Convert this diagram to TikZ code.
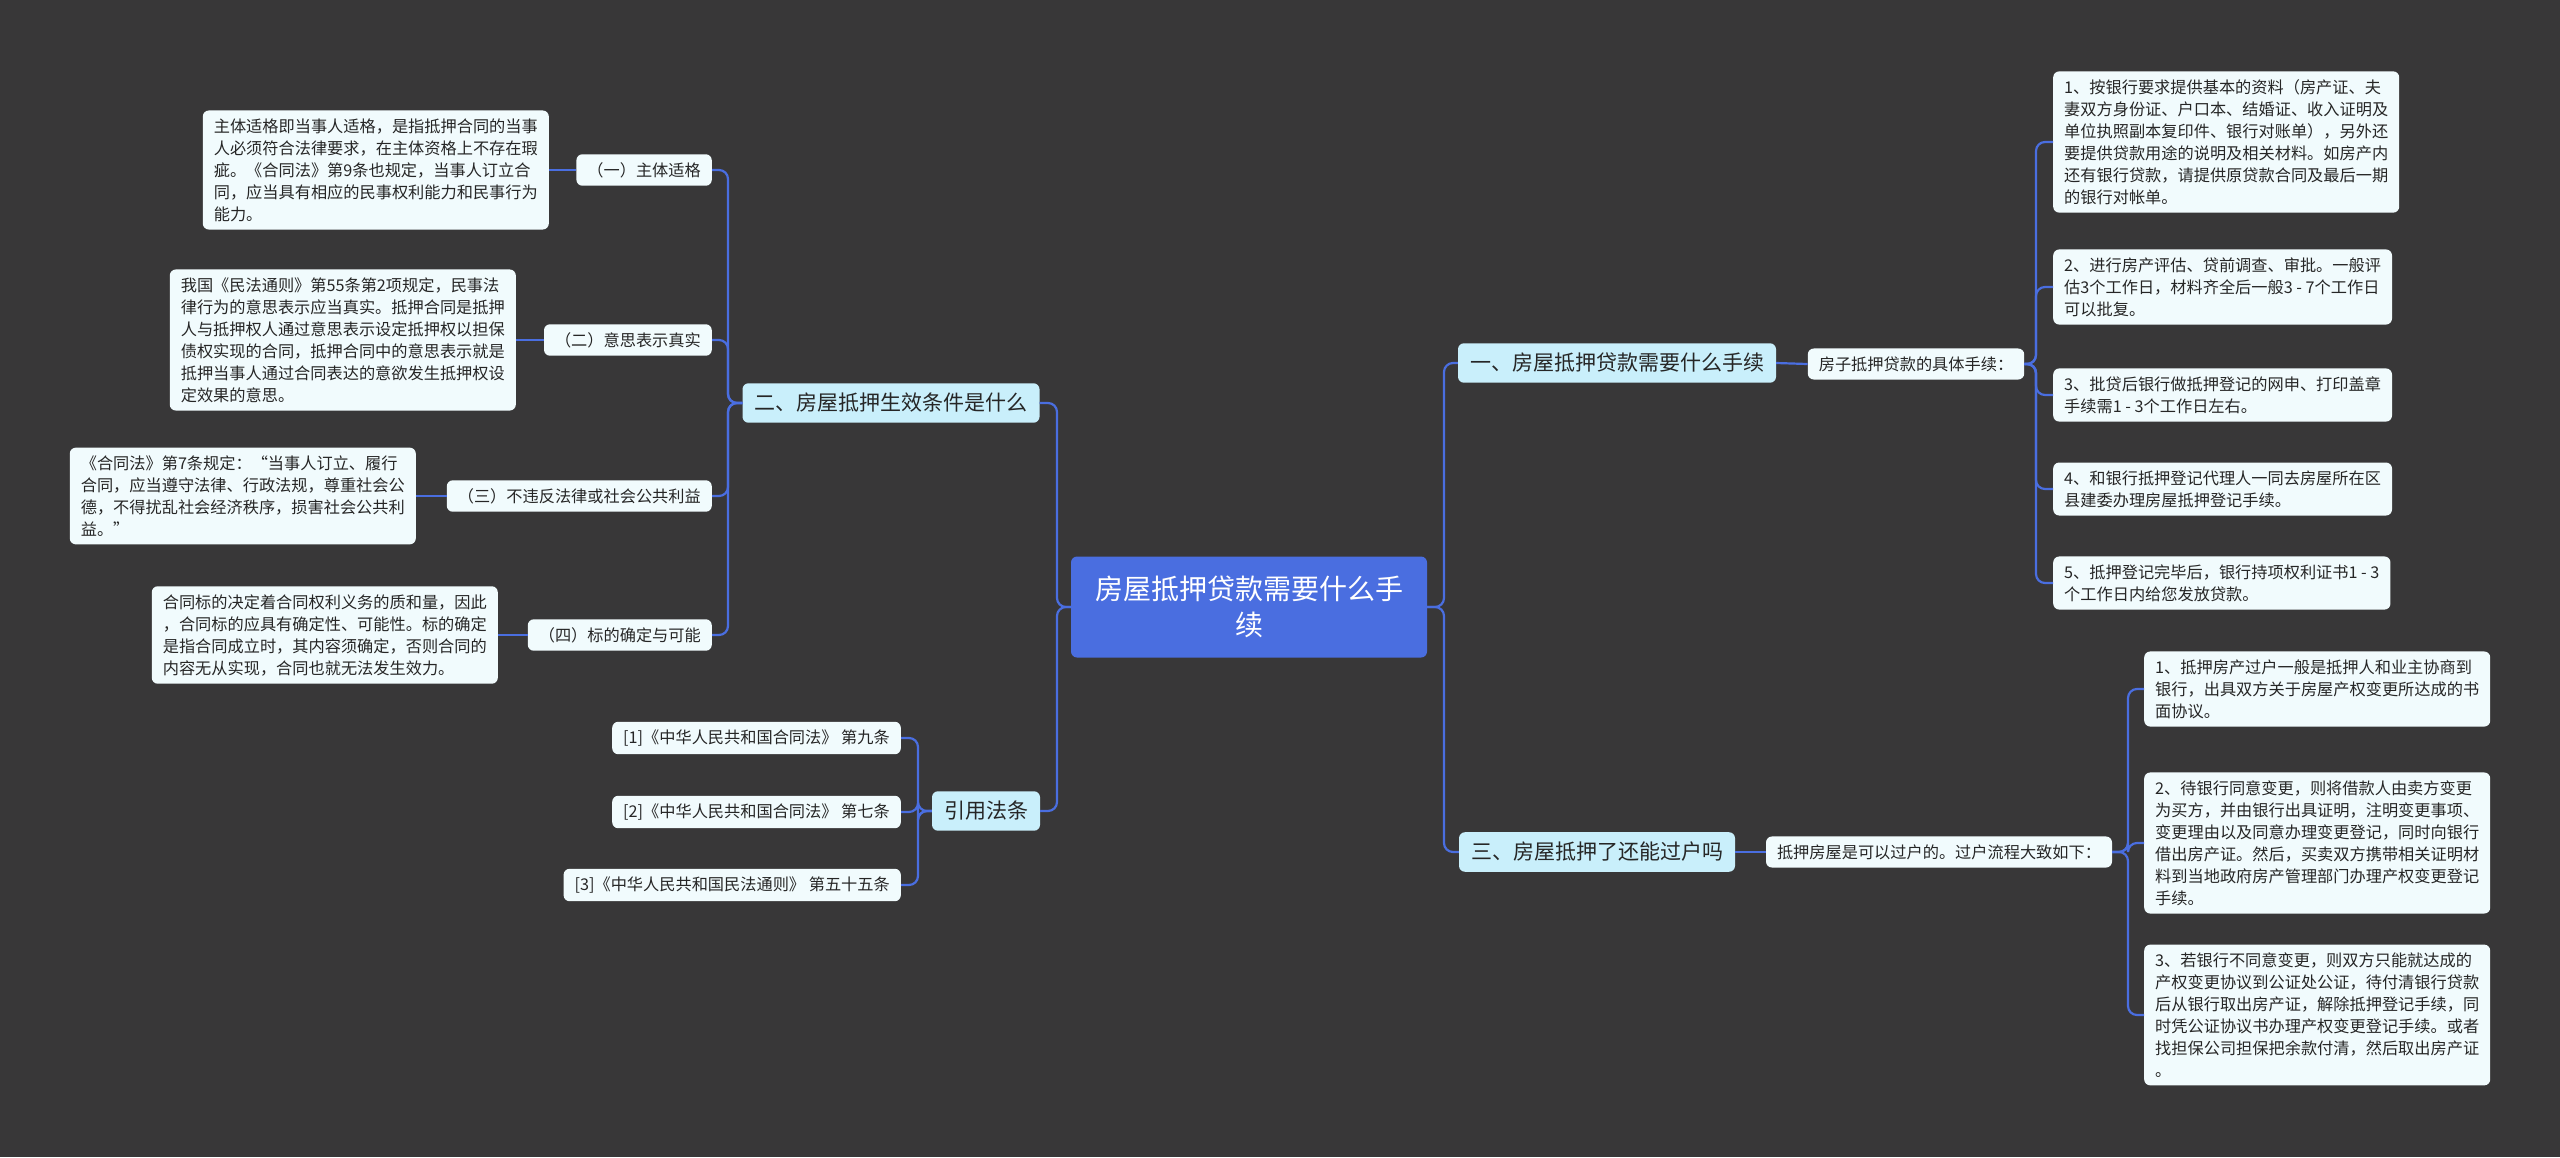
\documentclass[tikz,border=0pt]{standalone}
\usepackage{fontspec}
\setmainfont{Noto Sans CJK SC}
\begin{document}
\begin{tikzpicture}[x=1pt,y=-1pt,
  every node/.style={font=\fontsize{16.2}{22}\selectfont, text=black!85},
  leaf/.style={draw=none, fill=leafc, rounded corners=6pt, align=left, inner xsep=11pt, inner ysep=8pt},
  sub/.style={leaf},
  top/.style={fill=topc, rounded corners=6pt, inner xsep=12pt, inner ysep=10pt, font=\fontsize{21}{26}\selectfont},
  ctr/.style={fill=ctrc, rounded corners=6pt, align=center, text=white, minimum width=356pt, minimum height=101pt, font=\fontsize{28}{36}\selectfont},
  ln/.style={draw=linec, line width=2.2pt, rounded corners=9pt}]
\definecolor{bgc}{HTML}{383738}
\definecolor{leafc}{HTML}{F1FBFD}
\definecolor{topc}{HTML}{C9EFFB}
\definecolor{ctrc}{HTML}{4A6EE0}
\definecolor{linec}{HTML}{4A6EE0}
\fill[bgc] (0,0) rectangle (2560,1157);
\useasboundingbox (0,0) rectangle (2560,1157);

\node[ctr] (c) at (1249,607) {房屋抵押贷款需要什么手\\续};

% right side
\node[top] (t1) at (1617,363) {一、房屋抵押贷款需要什么手续};
\node[sub] (s1) at (1916,364) {房子抵押贷款的具体手续：};
\node[leaf, anchor=west] (r1) at (2053,142) {1、按银行要求提供基本的资料（房产证、夫\\妻双方身份证、户口本、结婚证、收入证明及\\单位执照副本复印件、银行对账单），另外还\\要提供贷款用途的说明及相关材料。如房产内\\还有银行贷款，请提供原贷款合同及最后一期\\的银行对帐单。};
\node[leaf, anchor=west] (r2) at (2053,287) {2、进行房产评估、贷前调查、审批。一般评\\估3个工作日，材料齐全后一般3 - 7个工作日\\可以批复。};
\node[leaf, anchor=west] (r3) at (2053,395) {3、批贷后银行做抵押登记的网申、打印盖章\\手续需1 - 3个工作日左右。};
\node[leaf, anchor=west] (r4) at (2053,489) {4、和银行抵押登记代理人一同去房屋所在区\\县建委办理房屋抵押登记手续。};
\node[leaf, anchor=west] (r5) at (2053,583) {5、抵押登记完毕后，银行持项权利证书1 - 3\\个工作日内给您发放贷款。};

\node[top] (t3) at (1597,852) {三、房屋抵押了还能过户吗};
\node[sub] (s3) at (1939,852) {抵押房屋是可以过户的。过户流程大致如下：};
\node[leaf, anchor=west] (q1) at (2144,689) {1、抵押房产过户一般是抵押人和业主协商到\\银行，出具双方关于房屋产权变更所达成的书\\面协议。};
\node[leaf, anchor=west] (q2) at (2144,843) {2、待银行同意变更，则将借款人由卖方变更\\为买方，并由银行出具证明，注明变更事项、\\变更理由以及同意办理变更登记，同时向银行\\借出房产证。然后，买卖双方携带相关证明材\\料到当地政府房产管理部门办理产权变更登记\\手续。};
\node[leaf, anchor=west] (q3) at (2144,1015) {3、若银行不同意变更，则双方只能就达成的\\产权变更协议到公证处公证，待付清银行贷款\\后从银行取出房产证，解除抵押登记手续，同\\时凭公证协议书办理产权变更登记手续。或者\\找担保公司担保把余款付清，然后取出房产证\\。};

% left side
\node[top] (t2) at (891,403) {二、房屋抵押生效条件是什么};
\node[sub, anchor=east] (a1) at (712,170) {（一）主体适格};
\node[sub, anchor=east] (a2) at (712,340) {（二）意思表示真实};
\node[sub, anchor=east] (a3) at (712,496) {（三）不违反法律或社会公共利益};
\node[sub, anchor=east] (a4) at (712,635) {（四）标的确定与可能};
\node[leaf, anchor=east] (d1) at (549,170) {主体适格即当事人适格，是指抵押合同的当事\\人必须符合法律要求，在主体资格上不存在瑕\\疵。《合同法》第9条也规定，当事人订立合\\同，应当具有相应的民事权利能力和民事行为\\能力。};
\node[leaf, anchor=east] (d2) at (516,340) {我国《民法通则》第55条第2项规定，民事法\\律行为的意思表示应当真实。抵押合同是抵押\\人与抵押权人通过意思表示设定抵押权以担保\\债权实现的合同，抵押合同中的意思表示就是\\抵押当事人通过合同表达的意欲发生抵押权设\\定效果的意思。};
\node[leaf, anchor=east] (d3) at (416,496) {《合同法》第7条规定：“当事人订立、履行\\合同，应当遵守法律、行政法规，尊重社会公\\德，不得扰乱社会经济秩序，损害社会公共利\\益。”};
\node[leaf, anchor=east] (d4) at (498,635) {合同标的决定着合同权利义务的质和量，因此\\，合同标的应具有确定性、可能性。标的确定\\是指合同成立时，其内容须确定，否则合同的\\内容无从实现，合同也就无法发生效力。};

\node[top] (t4) at (986,811) {引用法条};
\node[sub, anchor=east] (b1) at (901,738) {[1]《中华人民共和国合同法》 第九条};
\node[sub, anchor=east] (b2) at (901,812) {[2]《中华人民共和国合同法》 第七条};
\node[sub, anchor=east] (b3) at (901,885) {[3]《中华人民共和国民法通则》 第五十五条};

% connectors
\foreach \n in {t1,t3} \draw[ln] (c.east) -- (1444,607) |- (\n.west);
\foreach \n in {t2,t4} \draw[ln] (c.west) -- (1057,607) |- (\n.east);
\draw[ln] (t1.east) -- (s1.west);
\draw[ln] (t3.east) -- (s3.west);
\foreach \n in {r1,r2,r3,r4,r5} \draw[ln] (s1.east) -- (2036,364) |- (\n.west);
\foreach \n in {q1,q2,q3} \draw[ln] (s3.east) -- (2128,852) |- (\n.west);
\foreach \n in {a1,a2,a3,a4} \draw[ln] (t2.west) -- (728,403) |- (\n.east);
\draw[ln] (a1.west) -- (d1.east);
\draw[ln] (a2.west) -- (d2.east);
\draw[ln] (a3.west) -- (d3.east);
\draw[ln] (a4.west) -- (d4.east);
\foreach \n in {b1,b2,b3} \draw[ln] (t4.west) -- (918,811) |- (\n.east);
\end{tikzpicture}
\end{document}
